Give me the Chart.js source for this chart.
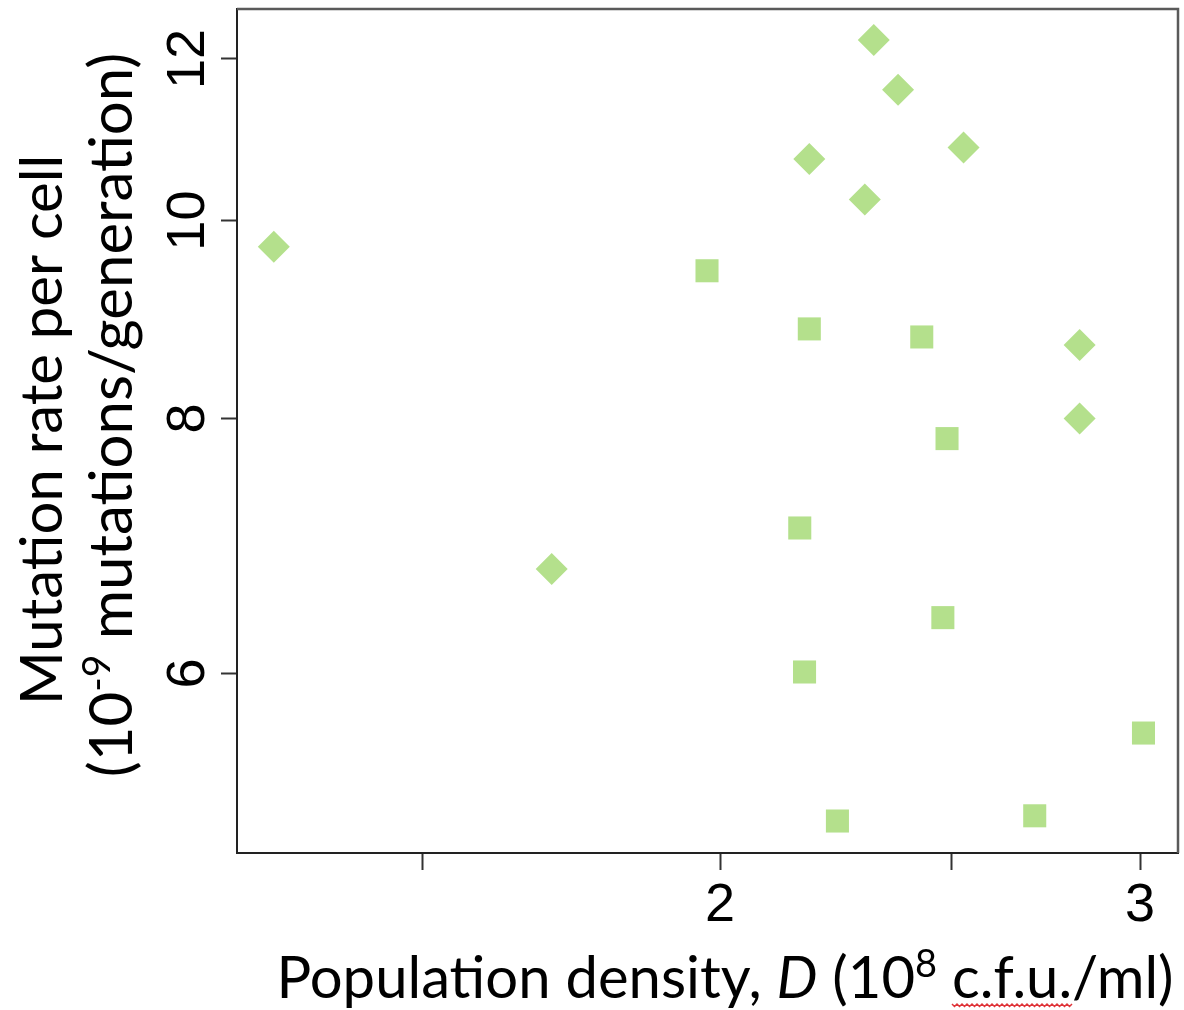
<!DOCTYPE html>
<html>
<head>
<meta charset="utf-8">
<script src="https://cdn.jsdelivr.net/npm/chart.js@4.4.0/dist/chart.umd.min.js"></script>
<style>
  html, body { margin: 0; padding: 0; background: #fff; }
  #wrap { width: 1184px; height: 1010px; position: relative; }
</style>
</head>
<body>
<div id="wrap"><canvas id="myChart"></canvas></div>
<script>
// values (both axes are log scaled)
const diamondX = [1.30, 1.70, 2.18, 2.32, 2.375, 2.30, 2.53, 2.83, 2.83];
const diamondY = [9.71, 6.75, 10.72, 12.26, 11.59, 10.24, 10.86, 8.69, 8.00];
const squareX = [1.975, 2.18, 2.43, 2.49, 2.16, 2.48, 2.17, 3.01, 2.24, 2.71];
const squareY = [9.45, 8.85, 8.77, 7.82, 7.07, 6.39, 6.01, 5.61, 5.08, 5.11];
const xTicks = [1.5, 2, 2.5, 3];
const xTickLabels = ["", "2", "", "3"];
const yTicks = [6, 8, 10, 12];
const yTickLabels = ["6", "8", "10", "12"];

const green = "#b4e08c";
const titleFont = "Lato";

// draws a list of text runs on one baseline, centred on cx
function drawRuns(ctx, runs, cx, size) {
  let total = 0;
  runs.forEach((r) => {
    ctx.font = (r.italic ? "italic " : "") + Math.round(size * (r.scale || 1)) + "px " + titleFont;
    r.w = ctx.measureText(r.text).width;
    total += r.w;
  });
  let x = cx - total / 2;
  runs.forEach((r) => {
    ctx.font = (r.italic ? "italic " : "") + Math.round(size * (r.scale || 1)) + "px " + titleFont;
    ctx.fillText(r.text, x, (r.dy || 0) * size);
    r.x0 = x;
    x += r.w;
  });
  return runs;
}

// no extra room for labels that overhang the plot box
function noOverhang(scale) {
  scale.paddingTop = 0;
  scale.paddingBottom = 0;
  scale.paddingLeft = 0;
  scale.paddingRight = 0;
}

const axisTitles = {
  id: "axisTitles",
  afterDraw(chart) {
    const ctx = chart.ctx;
    const a = chart.chartArea;
    ctx.save();
    // top and right side of the frame
    ctx.strokeStyle = "#5a5a5a";
    ctx.lineWidth = 2.5;
    ctx.beginPath();
    ctx.moveTo(a.left, a.top);
    ctx.lineTo(a.right, a.top);
    ctx.lineTo(a.right, a.bottom);
    ctx.stroke();

    ctx.fillStyle = "#000";
    ctx.textBaseline = "alphabetic";
    ctx.textAlign = "left";

    // x title
    ctx.save();
    ctx.translate(0, 998);
    const xr = drawRuns(ctx, [
      { text: "Population density, " },
      { text: "D", italic: true },
      { text: " (10" },
      { text: "8", scale: 0.65, dy: -0.36 },
      { text: " " },
      { text: "c.f.u." },
      { text: "/ml)" }
    ], 725, 58);
    // spell-check squiggle under c.f.u.
    const s = xr[5];
    ctx.strokeStyle = "#e0353a";
    ctx.lineWidth = 1.5;
    ctx.beginPath();
    for (let px = 0; px <= s.w; px += 2.5) {
      const yy = 6 + (Math.round(px / 2.5) % 2 === 0 ? 0 : 2.5);
      if (px === 0) ctx.moveTo(s.x0 + px, yy); else ctx.lineTo(s.x0 + px, yy);
    }
    ctx.stroke();
    ctx.restore();

    // y title, two rotated lines
    ctx.save();
    ctx.translate(62, 430);
    ctx.rotate(-Math.PI / 2);
    drawRuns(ctx, [{ text: "Mutation rate per cell" }], 0, 58);
    ctx.restore();

    ctx.save();
    ctx.translate(132, 415);
    ctx.rotate(-Math.PI / 2);
    drawRuns(ctx, [
      { text: "(10" },
      { text: "-9", scale: 0.65, dy: -0.36 },
      { text: " mutations/generation)" }
    ], 0, 60);
    ctx.restore();
    ctx.restore();
  }
};

const ctx = document.getElementById("myChart").getContext("2d");
const myChart = new Chart(ctx, {
  type: "scatter",
  data: {
    datasets: [
      {
        label: "diamonds",
        data: diamondX.map((x, i) => ({ x: x, y: diamondY[i] })),
        pointStyle: "rectRot",
        pointRadius: 16,
        backgroundColor: green,
        borderWidth: 0
      },
      {
        label: "squares",
        data: squareX.map((x, i) => ({ x: x, y: squareY[i] })),
        pointStyle: "rect",
        pointRadius: 16.3,
        backgroundColor: green,
        borderWidth: 0
      }
    ]
  },
  options: {
    responsive: true,
    maintainAspectRatio: false,
    animation: false,
    layout: { autoPadding: false, padding: { left: 0, top: 9, right: 6, bottom: 0 } },
    plugins: { legend: { display: false }, tooltip: { enabled: false } },
    scales: {
      x: {
        type: "logarithmic",
        min: 1.2546,
        max: 3.112,
        afterBuildTicks: (scale) => { scale.ticks = xTicks.map((v) => ({ value: v })); },
        afterFit: (scale) => { scale.height = 157; noOverhang(scale); },
        grid: { drawOnChartArea: false, tickLength: 17, tickColor: "#333", tickWidth: 2 },
        border: { display: true, color: "#222", width: 2 },
        ticks: {
          autoSkip: false,
          maxRotation: 0,
          padding: 4,
          color: "#000",
          font: { family: "Liberation Sans", size: 54 },
          callback: (v, i) => xTickLabels[i]
        }
      },
      y: {
        type: "logarithmic",
        min: 4.904,
        max: 12.696,
        afterBuildTicks: (scale) => { scale.ticks = yTicks.map((v) => ({ value: v })); },
        afterFit: (scale) => { scale.width = 237; noOverhang(scale); },
        grid: { drawOnChartArea: false, tickLength: 16, tickColor: "#333", tickWidth: 2 },
        border: { display: true, color: "#222", width: 2 },
        ticks: {
          autoSkip: false,
          minRotation: 90,
          maxRotation: 90,
          crossAlign: "center",
          padding: 2,
          color: "#000",
          font: { family: "Liberation Sans", size: 54 },
          callback: (v, i) => yTickLabels[i]
        }
      }
    }
  },
  plugins: [axisTitles]
});
</script>
</body>
</html>
